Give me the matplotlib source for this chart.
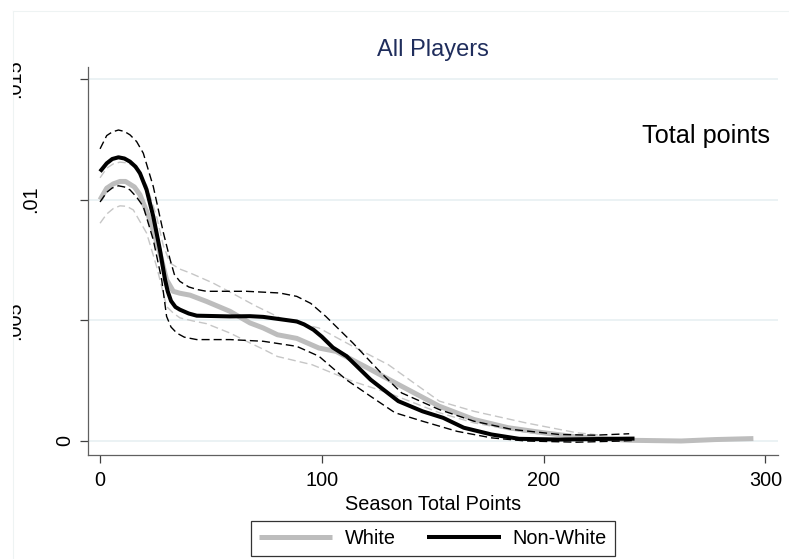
import matplotlib
matplotlib.use("Agg")
import matplotlib.pyplot as plt
from matplotlib.lines import Line2D
from matplotlib.transforms import blended_transform_factory, Bbox, TransformedBbox

plt.rcParams['font.family'] = ['Liberation Sans', 'DejaVu Sans']
plt.rcParams['lines.scale_dashes'] = False

# ---------------- data ----------------
title = "All Players"
panel_label = "Total points"
x_label = "Season Total Points"
series_names = ["White", "Non-White"]

x_ticks = [0, 100, 200, 300]
x_tick_labels = ["0", "100", "200", "300"]
y_ticks = [0, 0.005, 0.01, 0.015]
y_tick_labels = ["0", ".005", ".01", ".015"]

# White: density estimate
white_x = [0, 3, 6, 9, 11.5, 15.5, 18, 22.5, 27, 30, 33, 36, 40.6, 48, 58.6, 67.6,
           73.6, 80, 88.7, 98.7, 106.5, 122, 134.5, 153, 168.6, 184, 200, 215,
           238.6, 262, 277.5, 294.6]
white_y = [0.00999, 0.01047, 0.01065, 0.01075, 0.01075, 0.01052, 0.0102, 0.00916,
           0.00778, 0.00668, 0.0062, 0.00612, 0.00604, 0.00578, 0.00537, 0.00489,
           0.00468, 0.0044, 0.00425, 0.00385, 0.00371, 0.00296, 0.00234, 0.00144,
           0.00089, 0.00055, 0.00034, 0.00017, 0.00003, 0.0, 0.00006, 0.0001]
# White: confidence band
white_hi_x = [0, 3, 6, 9, 12, 15, 21, 25.5, 28.5, 31.6, 36, 40.6, 51, 60, 70, 83,
              98.7, 114, 130, 153, 168.6, 192, 215, 225]
white_hi_y = [0.0109, 0.0113, 0.01148, 0.01155, 0.01152, 0.0114, 0.0106, 0.0093,
              0.0081, 0.00737, 0.00712, 0.00696, 0.00654, 0.0061, 0.0056, 0.00502,
              0.00468, 0.00392, 0.00316, 0.00165, 0.00123, 0.00075, 0.00034,
              0.00025]
white_lo_x = [0, 3, 6, 9, 12, 15, 21, 25.5, 30, 33, 36, 42, 48, 58.6, 67.6, 73.6,
              80, 95.6, 114, 130, 153, 168.6, 192, 215, 225]
white_lo_y = [0.00902, 0.0094, 0.00963, 0.00974, 0.00972, 0.00957, 0.00861,
              0.00723, 0.00557, 0.0053, 0.0051, 0.00497, 0.00486, 0.00447, 0.00406,
              0.0038, 0.0035, 0.00316, 0.00247, 0.00199, 0.00117, 0.00075, 0.00036,
              0.00013, 0.00008]

# Non-White: density estimate
nonwhite_x = [0, 3, 5.5, 8.3, 11, 13.5, 16, 18, 21, 24, 27, 29.3, 30.5, 32, 34, 36,
              40, 43.6, 58.6, 67.6, 73.6, 88.7, 92, 96.2, 100, 105, 111.2, 122,
              134.5, 145.4, 154.7, 164, 176.5, 189, 207, 231, 241]
nonwhite_y = [0.01116, 0.0115, 0.01168, 0.01175, 0.0117, 0.01157, 0.01136, 0.01109,
              0.0104, 0.0093, 0.00792, 0.00668, 0.0062, 0.0058, 0.00555, 0.00544,
              0.00528, 0.00519, 0.00516, 0.00517, 0.00514, 0.00495, 0.00483,
              0.00461, 0.00432, 0.00387, 0.00351, 0.00254, 0.00165, 0.00123,
              0.00096, 0.00055, 0.00027, 0.00009, 0.00006, 0.00009, 0.0001]
# Non-White: confidence band
nonwhite_hi_x = [0, 3, 5.5, 8.3, 11, 13.5, 16.5, 19.5, 24, 28.6, 31.6, 33.5, 36,
                 40, 44, 48, 66, 81, 88.7, 95, 101.8, 114, 126.7, 136, 153, 168.6,
                 185.7, 207, 223, 238.6]
nonwhite_hi_y = [0.0121, 0.01265, 0.0128, 0.01288, 0.01282, 0.01268, 0.0124,
                 0.01192, 0.01054, 0.00861, 0.00751, 0.0069, 0.00661, 0.00638,
                 0.00627, 0.0062, 0.0062, 0.00613, 0.00599, 0.0057, 0.00516, 0.00406,
                 0.00282, 0.00199, 0.0013, 0.00082, 0.00048, 0.00027, 0.00024,
                 0.0003]
nonwhite_lo_x = [0, 3, 5.5, 8.3, 11, 13.5, 16.5, 19.5, 24, 27.8, 30, 32, 34.6, 38,
                 43.6, 58.6, 73.6, 88.7, 98.7, 111, 122, 133, 145.4, 161, 176.5,
                 192, 215, 235.5, 240]
nonwhite_lo_y = [0.0099, 0.0103, 0.01048, 0.01057, 0.01052, 0.0104, 0.0101,
                 0.00971, 0.00833, 0.00668, 0.00516, 0.00472, 0.00447, 0.0043,
                 0.0042, 0.0042, 0.00413, 0.00392, 0.00351, 0.00254, 0.00185,
                 0.00117, 0.00082, 0.0004, 0.00013, 0.0, -0.00005, 0.0, 0.00002]

# ---------------- figure ----------------
W, H = 789, 559
fig = plt.figure(figsize=(W / 100, H / 100), dpi=100)
fig.patch.set_facecolor('white')

def fx(px):
    return px / W

def fy(py):
    return 1 - py / H

ax = fig.add_axes([fx(88.3), fy(455), fx(778) - fx(88.3), fy(67) - fy(455)])
ax.set_xlim(-5.3, 305.7)
ax.set_ylim(-0.00058, 0.01549)

grid_c = '#e8f0f2'
for yt in y_ticks:
    ax.axhline(yt, color=grid_c, lw=1.2, zorder=0)

gray = '#bdbdbd'
gray_ci = '#c6c6c6'
dash = (0, (5.8, 2.9))
ax.plot(white_hi_x, white_hi_y, color=gray_ci, lw=1.0, ls=dash, zorder=2)
ax.plot(white_lo_x, white_lo_y, color=gray_ci, lw=1.0, ls=dash, zorder=2)
l_white, = ax.plot(white_x, white_y, color=gray, lw=3.6, zorder=3,
                   solid_capstyle='butt', solid_joinstyle='round')
ax.plot(nonwhite_hi_x, nonwhite_hi_y, color='black', lw=1.0, ls=dash, zorder=4)
ax.plot(nonwhite_lo_x, nonwhite_lo_y, color='black', lw=1.0, ls=dash, zorder=4)
l_nonwhite, = ax.plot(nonwhite_x, nonwhite_y, color='black', lw=2.9, zorder=5,
                      solid_capstyle='butt', solid_joinstyle='round')

for s in ['top', 'right']:
    ax.spines[s].set_visible(False)
for s in ['left', 'bottom']:
    ax.spines[s].set_color('#606060')
    ax.spines[s].set_linewidth(0.9)

ax.set_xticks(x_ticks)
ax.set_xticklabels(x_tick_labels)
ax.set_yticks(y_ticks)
ax.set_yticklabels([''] * len(y_ticks))
ax.tick_params(axis='both', direction='out', length=5.8, width=0.9, color='#404040')
ax.tick_params(axis='x', labelsize=14.3, pad=6, labelcolor='black')

# rotated y tick labels (placed like the reference, partly cut at the page edge)
ylab_px = [64.5, 14.5, 30.5, 14.5]
tr = blended_transform_factory(fig.transFigure, ax.transData)
clip = TransformedBbox(Bbox.from_extents(fx(13), 0, 1, 1), fig.transFigure)
for yt, lab, px in zip(y_ticks, y_tick_labels, ylab_px):
    t = fig.text(fx(px), yt, lab, transform=tr, rotation=90, ha='center',
                 va='center', fontsize=14.3, color='black')
    t.set_clip_box(clip)
    t.set_clip_on(True)

# faint page edge lines
fig.add_artist(Line2D([fx(13), fx(13)], [0, fy(11)], color='#eef3f3', lw=0.8))
fig.add_artist(Line2D([fx(13), 1], [fy(11), fy(11)], color='#eef3f3', lw=0.8))

fig.text(fx(433), fy(56), title, ha='center', va='baseline', fontsize=17,
         color='#1f2d5c')
fig.text(fx(770), fy(143.3), panel_label, ha='right', va='baseline',
         fontsize=18.2, color='black')
fig.text(fx(433), fy(509.5), x_label, ha='center', va='baseline', fontsize=14.3,
         color='black')

leg = fig.legend([l_white, l_nonwhite], series_names, loc='center',
                 bbox_to_anchor=(fx(433), fy(538.5)), ncol=2, fontsize=14.3,
                 frameon=True, fancybox=False, handlelength=3.7,
                 handletextpad=0.62, columnspacing=1.58, borderpad=0.38,
                 borderaxespad=0)
leg.get_frame().set_edgecolor('black')
leg.get_frame().set_linewidth(0.9)
leg.get_frame().set_boxstyle('square', pad=0)

fig.savefig('out.png', dpi=100, facecolor='white')
